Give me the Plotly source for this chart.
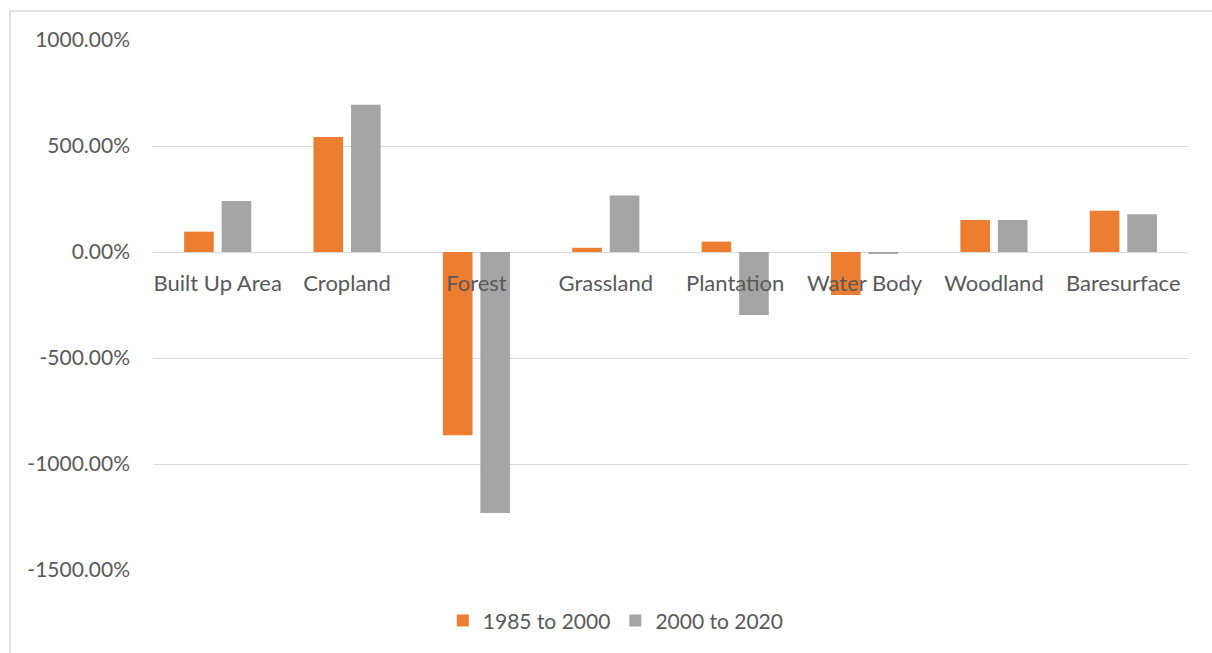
import plotly.graph_objects as go

# Land cover change by class, percent
categories = ["Built Up Area", "Cropland", "Forest", "Grassland",
              "Plantation", "Water Body", "Woodland", "Baresurface"]
change_1985_2000 = [96, 543, -864, 20, 49, -203, 151, 195]
change_2000_2020 = [241, 694, -1231, 266, -297, -8, 151, 178]
y_ticks = [1000, 500, 0, -500, -1000, -1500]

FONT = "Lato"
TEXT = "#595959"
GRID = "#d9d9d9"

fig = go.Figure()
fig.add_trace(go.Bar(name="1985 to 2000", x=categories, y=change_1985_2000,
                     marker=dict(color="#ED7D31", line=dict(width=0))))
fig.add_trace(go.Bar(name="2000 to 2020", x=categories, y=change_2000_2020,
                     marker=dict(color="#A5A5A5", line=dict(width=0))))

y_min, y_max = -1500, 1000
fig.update_layout(
    width=1212, height=653,
    margin=dict(l=153, r=24, t=40, b=83),
    paper_bgcolor="white", plot_bgcolor="white",
    barmode="group", bargap=0.42, bargroupgap=0.21,
    font=dict(family=FONT, size=21, color=TEXT),
    showlegend=True,
    legend=dict(orientation="h", x=0.28, xanchor="left", y=-0.096, yanchor="middle",
                font=dict(family=FONT, size=21, color=TEXT), itemwidth=30,
                traceorder="normal"),
    xaxis=dict(
        anchor="free", position=(0 - y_min) / (y_max - y_min),
        showline=False, showgrid=False, ticks="", zeroline=False,
        ticklabelstandoff=16,
        tickfont=dict(family=FONT, size=22, color=TEXT),
    ),
    yaxis=dict(
        range=[y_min, y_max], tickvals=y_ticks,
        ticktext=[f"{v:.2f}%" for v in y_ticks],
        showgrid=True, gridcolor=GRID, gridwidth=1.3,
        zeroline=True, zerolinecolor=GRID, zerolinewidth=1.3,
        showline=False, ticks="", ticklabelstandoff=22,
        tickfont=dict(family=FONT, size=21, color=TEXT),
    ),
)

# Chart frame (left and top edges visible)
fig.add_shape(type="rect", xref="paper", yref="paper",
              x0=(10 - 153) / 1035, x1=1.2, y0=-0.5, y1=(570 - 11) / 530,
              line=dict(color=GRID, width=1.5), fillcolor="rgba(0,0,0,0)", layer="below")

fig.write_html("out.html")
